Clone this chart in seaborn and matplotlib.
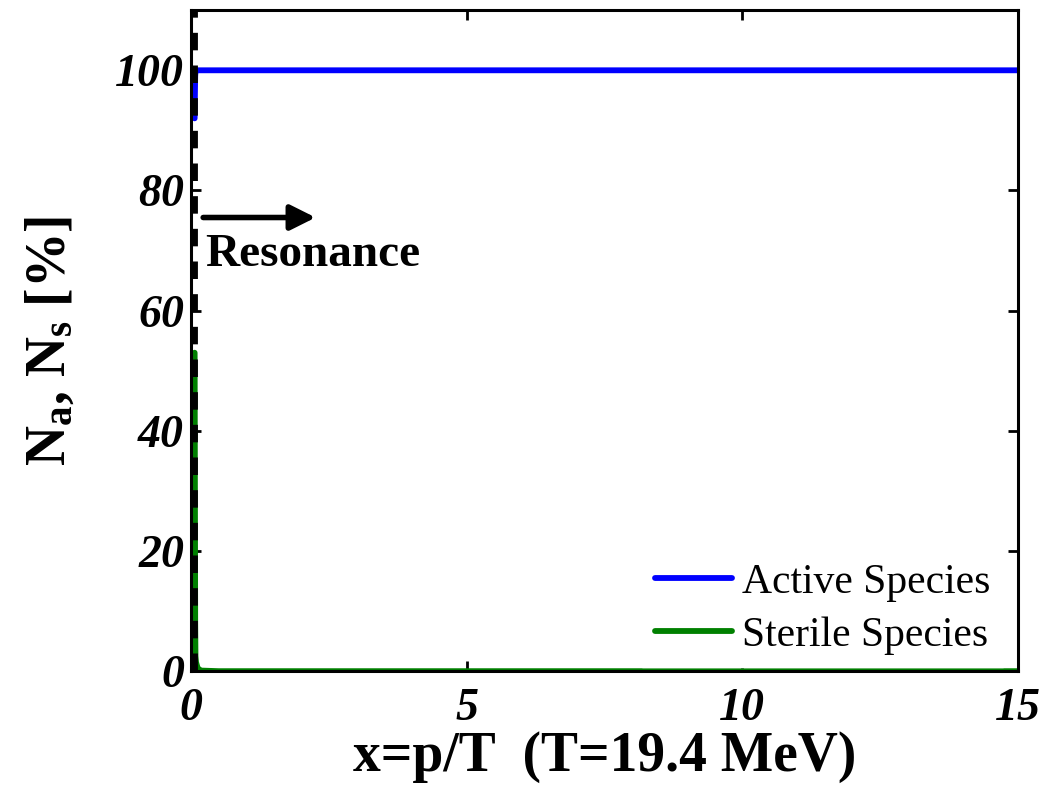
import numpy as np
import pandas as pd
import matplotlib
matplotlib.use("Agg")
import matplotlib.pyplot as plt
import seaborn as sns

# ---- data ----
x_vals = [0.065, 0.07, 0.075, 0.08, 0.09, 0.12, 0.18, 0.5, 1, 2, 3, 4, 5, 6, 7, 8,
          9, 10, 11, 12, 13, 14, 15]
active_pct = [92.0, 96.0, 99.0, 99.8, 100, 100, 100, 100, 100, 100, 100, 100, 100,
              100, 100, 100, 100, 100, 100, 100, 100, 100, 100]
sterile_pct = [53.0, 30.0, 8.0, 2.5, 1.5, 0.5, 0.1, 0, 0, 0, 0, 0, 0, 0, 0, 0,
               0, 0, 0, 0, 0, 0, 0]
series_names = ["Active Species", "Sterile Species"]
series_colors = ["#0000ff", "#008000"]
resonance_x = 0.07
arrow_start = (0.22, 75.5)
arrow_end = (2.26, 75.5)
resonance_label = "Resonance"
resonance_label_pos = (0.25, 69.3)
x_ticks = [0, 5, 10, 15]
y_ticks = [0, 20, 40, 60, 80, 100]

sns.set_style("white")
plt.rcParams["font.family"] = ["Liberation Serif", "DejaVu Serif"]
plt.rcParams["mathtext.fontset"] = "custom"
plt.rcParams["mathtext.rm"] = "Liberation Serif:bold"
plt.rcParams["mathtext.bf"] = "Liberation Serif:bold"
plt.rcParams["mathtext.it"] = "Liberation Serif:bold:italic"
for k in ["text.color", "axes.labelcolor", "xtick.color", "ytick.color",
          "axes.edgecolor"]:
    plt.rcParams[k] = "black"

df = pd.DataFrame({
    "x": x_vals * 2,
    "value": active_pct + sterile_pct,
    "species": [series_names[0]] * len(x_vals) + [series_names[1]] * len(x_vals),
})

fig = plt.figure(figsize=(10.44, 7.85), dpi=100)
ax = fig.add_axes([0.183, 0.145, 0.792, 0.842])

sns.lineplot(data=df, x="x", y="value", hue="species", hue_order=series_names,
             palette=series_colors, linewidth=4.2, ax=ax, sort=False,
             estimator=None, legend=True)

ax.axvline(resonance_x, color="black", lw=4.2, ls=(0, (3.0, 2.6)), zorder=5)

ax.annotate("", xy=arrow_end, xytext=arrow_start,
            arrowprops=dict(arrowstyle="-|>", lw=4, color="black",
                            mutation_scale=38, shrinkA=0, shrinkB=0))
ax.text(resonance_label_pos[0], resonance_label_pos[1], resonance_label,
        fontsize=34, fontweight="bold", ha="left", va="center")

ax.set_xlim(0, 15)
ax.set_ylim(0, 110)
ax.set_xticks(x_ticks)
ax.set_yticks(y_ticks)
ax.set_xticklabels([str(t) for t in x_ticks], fontsize=33, fontweight="bold",
                   fontstyle="italic")
ax.set_yticklabels([str(t) for t in y_ticks], fontsize=33, fontweight="bold",
                   fontstyle="italic")
ax.tick_params(direction="in", length=7, width=2, top=True, right=True,
               bottom=True, left=True)
ax.tick_params(axis="x", pad=12)
ax.tick_params(axis="y", pad=5)
for s in ax.spines.values():
    s.set_linewidth(2.2)
    s.set_color("black")

ax.set_xlabel("x=p/T  (T=19.4 MeV)", fontsize=40, fontweight="bold", labelpad=1)
ax.set_ylabel(r"N$_{\mathrm{a}}$, N$_{\mathrm{s}}$ [%]", fontsize=40,
              fontweight="bold", labelpad=28)

leg = ax.legend(loc="lower right", bbox_to_anchor=(1.0, -0.016), fontsize=30,
                frameon=True, handlelength=1.85,
                borderaxespad=0.35, borderpad=0.3, handletextpad=0.25,
                labelspacing=0.35, fancybox=False)
leg.get_frame().set_edgecolor("white")
leg.get_frame().set_facecolor("white")
leg.get_frame().set_alpha(1.0)
for line in leg.get_lines():
    line.set_linewidth(4.2)

fig.savefig("out.png", dpi=100)
